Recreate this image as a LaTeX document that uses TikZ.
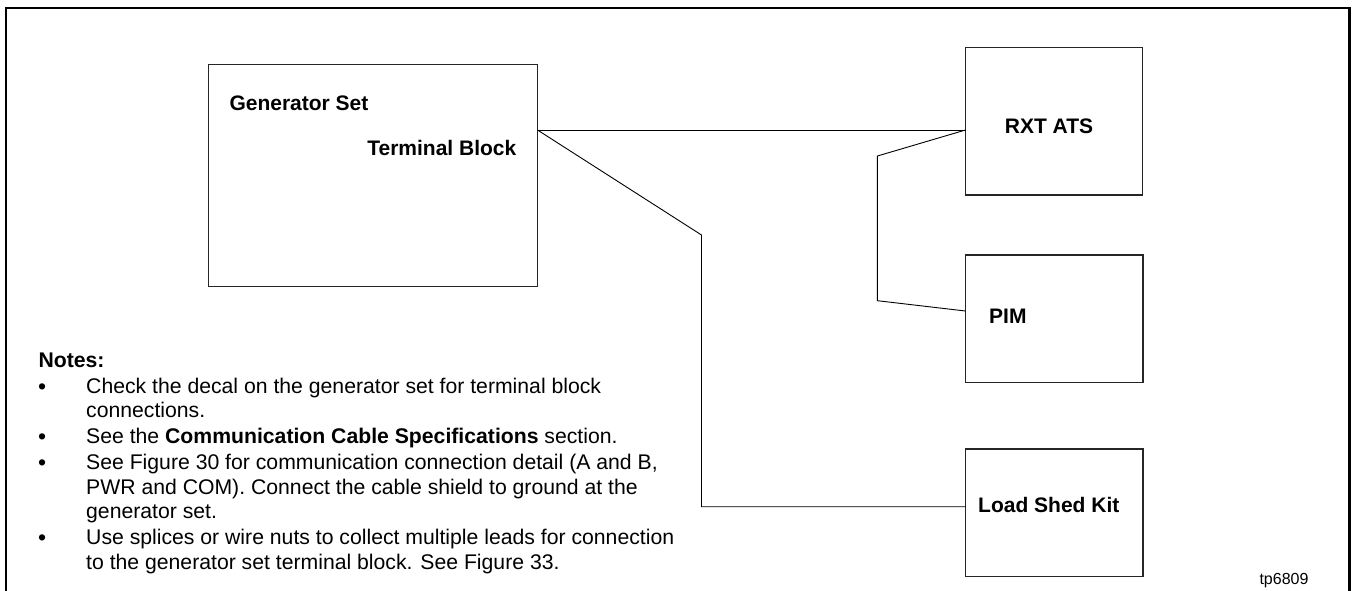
\documentclass[tikz,border=0pt]{standalone}
\usepackage{fontspec}
\setmainfont{Liberation Sans}
\begin{document}
\begin{tikzpicture}[x=1pt,y=-1pt,
  unitbox/.style={draw=black!85,line width=1.4pt},
  wire/.style={draw=black,line width=0.9pt},
  frameline/.style={draw=black,line width=2.4pt},
  lbl/.style={inner sep=0pt,font=\fontsize{21}{25}\selectfont\bfseries},
  note/.style={inner sep=0pt,anchor=base west,font=\fontsize{21.2}{25}\selectfont},
  bul/.style={inner sep=0pt,anchor=base west,font=\fontsize{23}{25}\selectfont}]
\useasboundingbox (0,0) rectangle (1352,590);
% frame (open at bottom)
\draw[frameline] (6,591) -- (6,8) -- (1349.5,8) -- (1349.5,591);
% boxes
\draw[unitbox] (208.5,64.5) rectangle (537.5,286.5);
\draw[unitbox] (965.5,47.3) rectangle (1142.5,195);
\draw[unitbox] (965.5,255) rectangle (1143,382.7);
\draw[unitbox] (965.5,449) rectangle (1143,576.7);
% connection points
\coordinate (tb) at (537.5,130);
\coordinate (rxt) at (965.5,130);
\coordinate (pim) at (965.5,311);
\coordinate (lsk) at (965.5,506.7);
\coordinate (b1) at (701.5,235);
\coordinate (b2) at (701.5,506.7);
\coordinate (c1) at (877.4,156);
\coordinate (c2) at (877.4,300.7);
% wires
\draw[wire] (tb) -- (rxt);
\draw[wire] (tb) -- (b1) -- (b2) -- (lsk);
\draw[wire] (rxt) -- (c1) -- (c2) -- (pim);
% labels
\node[lbl,anchor=base west] (gs) at (229.3,110) {Generator Set};
\node[lbl,anchor=base east] (tbl) at (516.5,155) {Terminal Block};
\node[lbl,anchor=base] (rxtl) at (1049,133.3) {RXT ATS};
\node[lbl,anchor=base west] (piml) at (989,323.3) {PIM};
\node[lbl,anchor=base west] (lskl) at (978,512.3) {Load Shed Kit};
\node[inner sep=0pt,anchor=base west,font=\fontsize{16}{19}\selectfont] (tp) at (1259.3,584) {tp6809};
% notes
\node[note,font=\fontsize{21.2}{25}\selectfont\bfseries] (notes) at (38.3,367.3) {Notes:};
\node[bul] (bu1) at (38,394.3) {•};
\node[note] (n1) at (86,393.3) {Check the decal on the generator set for terminal block};
\node[note] (n2) at (86,417.7) {connections.};
\node[bul] (bu2) at (38,444.3) {•};
\node[note] (n3) at (86,443.3) {See the \textbf{Communication Cable Specifications} section.};
\node[bul] (bu3) at (38,470) {•};
\node[note] (n4) at (86,469) {See Figure 30 for communication connection detail (A and B,};
\node[note] (n5) at (86,494) {PWR and COM). Connect the cable shield to ground at the};
\node[note] (n6) at (86,518.5) {generator set.};
\node[bul] (bu4) at (38,545.3) {•};
\node[note] (n7) at (86,544.3) {Use splices or wire nuts to collect multiple leads for connection};
\node[note] (n8) at (86,569.3) {to the generator set terminal block. See Figure 33.};
\end{tikzpicture}
\end{document}
